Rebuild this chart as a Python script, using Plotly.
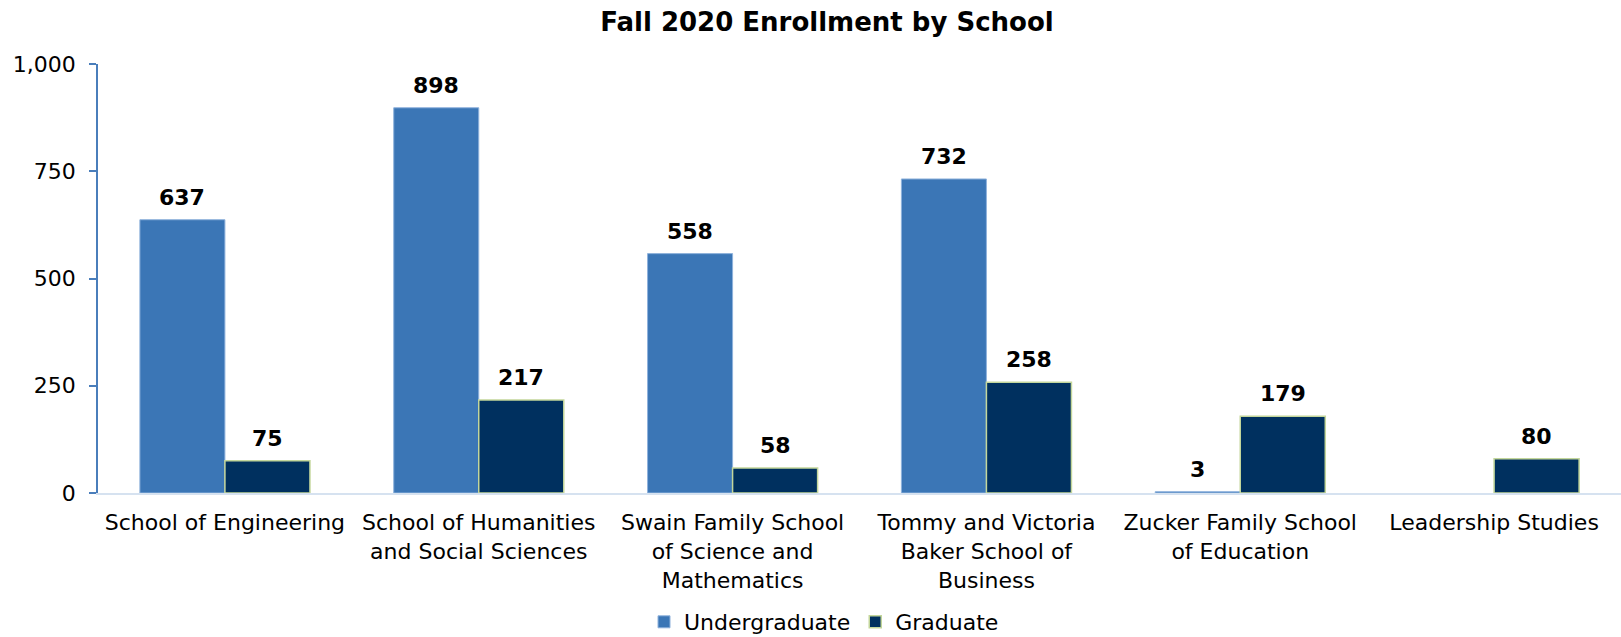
import plotly.graph_objects as go

categories = [
    "School of Engineering",
    "School of Humanities<br>and Social Sciences",
    "Swain Family School<br>of Science and<br>Mathematics",
    "Tommy and Victoria<br>Baker School of<br>Business",
    "Zucker Family School<br>of Education",
    "Leadership Studies",
]
undergraduate = [637, 898, 558, 732, 3, None]
graduate = [75, 217, 58, 258, 179, 80]
y_ticks = [0, 250, 500, 750, 1000]
y_tick_labels = ["0", "250", "500", "750", "1,000"]

FONT = "DejaVu Sans, Verdana, sans-serif"
UG_COLOR = "#3b76b6"
GR_COLOR = "#00305f"

fig = go.Figure()
fig.add_trace(go.Bar(
    name="Undergraduate", x=categories, y=undergraduate,
    marker=dict(color=UG_COLOR, line=dict(color="#8fb2dc", width=1)),
))
fig.add_trace(go.Bar(
    name="Graduate", x=categories, y=graduate,
    marker=dict(color=GR_COLOR, line=dict(color="#c3d69b", width=1.5)),
))

W, H = 1621, 637
L, R, T, B = 98, 0, 64, 144
bargap = 0.33
cat_w = (W - L - R) / len(categories)
bar_w = cat_w * (1 - bargap) / 2

annotations = []
for series, shift in ((undergraduate, -bar_w / 2), (graduate, bar_w / 2)):
    for c, v in zip(categories, series):
        if v is None:
            continue
        annotations.append(dict(
            x=c, y=v, xref="x", yref="y", text=f"<b>{v}</b>",
            showarrow=False, xshift=shift, yshift=8, yanchor="bottom",
            font=dict(family=FONT, size=22, color="#000000"),
        ))

fig.update_layout(
    width=W, height=H,
    margin=dict(l=L, r=R, t=T, b=B),
    paper_bgcolor="white", plot_bgcolor="white",
    barmode="group", bargap=bargap, bargroupgap=0,
    title=dict(text="<b>Fall 2020 Enrollment by School</b>",
               x=827 / W, xanchor="center",
               y=1 - 22 / H, yanchor="middle",
               font=dict(family=FONT, size=26, color="#000000")),
    font=dict(family=FONT, size=22, color="#000000"),
    showlegend=True,
    legend=dict(orientation="h", xref="container", yref="container",
                x=824 / W, xanchor="center", y=1 - 622 / H, yanchor="middle",
                font=dict(family=FONT, size=22, color="#000000"),
                itemwidth=30, tracegroupgap=0),
    annotations=annotations,
)
fig.update_yaxes(
    range=[0, 1000], tickvals=y_ticks, ticktext=y_tick_labels,
    showgrid=False, zeroline=False,
    showline=True, linecolor="#4a7ebb", linewidth=1.5,
    ticks="outside", ticklen=7, tickcolor="#4a7ebb", tickwidth=1.5,
    ticklabelstandoff=9,
    tickfont=dict(family=FONT, size=22, color="#000000"),
)
fig.update_xaxes(
    showgrid=False, showline=True, linecolor="#d6e2f0", linewidth=2,
    ticks="", ticklabelstandoff=9,
    tickfont=dict(family=FONT, size=22, color="#000000"),
)

fig.write_html("out.html", config={"displayModeBar": False},
               post_script="document.body.style.margin='0';")
